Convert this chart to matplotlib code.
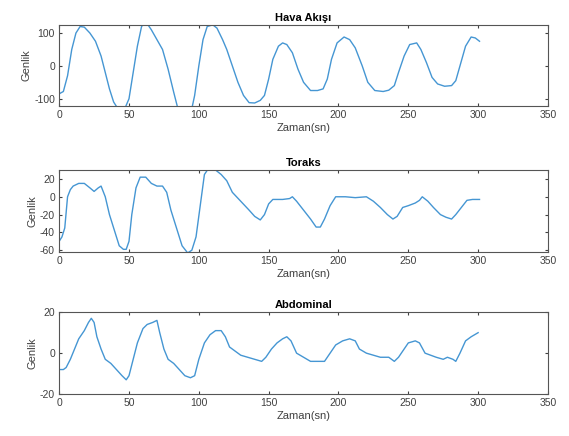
import numpy as np
import matplotlib
matplotlib.use('Agg')
import matplotlib.pyplot as plt

plt.rcParams['font.family'] = ['Liberation Sans', 'DejaVu Sans']
plt.rcParams['axes.unicode_minus'] = False

# Hava Akisi
t_hava = [0, 3, 6, 9, 12, 15, 18, 22, 26, 30, 33, 36, 39, 42, 47, 50, 53, 56, 59, 62,
          66, 70, 74, 78, 82, 85, 95, 97, 100, 103, 106, 110, 113, 117, 120, 124, 128,
          132, 136, 140, 144, 147, 150, 153, 157, 160, 163, 167, 171, 175, 180, 185,
          189, 192, 195, 199, 204, 208, 212, 217, 221, 226, 232, 236, 240, 243, 247,
          251, 256, 259, 263, 267, 271, 276, 281, 284, 287, 291, 295, 298, 301]
hava = [-85, -78, -30, 50, 100, 120, 118, 100, 75, 30, -20, -70, -110, -130, -130,
        -100, -20, 60, 120, 135, 110, 80, 50, -10, -80, -130, -130, -90, 0, 80, 120,
        125, 115, 80, 50, 0, -50, -90, -112, -113, -105, -90, -40, 20, 60, 70, 65, 40,
        -10, -50, -75, -75, -70, -40, 20, 70, 88, 80, 55, 0, -50, -75, -78, -74, -60,
        -20, 30, 65, 70, 50, 10, -35, -55, -62, -60, -45, 0, 60, 88, 85, 75]

# Toraks
t_tor = [0, 2, 4, 6, 8, 10, 14, 18, 22, 25, 28, 30, 33, 36, 40, 43, 46, 48, 50, 52,
         55, 58, 62, 66, 70, 74, 77, 80, 84, 88, 92, 95, 98, 101, 104, 107, 112, 116,
         120, 124, 130, 136, 140, 144, 147, 150, 153, 160, 165, 167, 170, 175, 180,
         184, 187, 190, 194, 198, 205, 212, 220, 225, 230, 235, 239, 242, 246, 250,
         255, 258, 260, 264, 268, 273, 277, 281, 284, 288, 292, 296, 301]
toraks = [-50, -45, -35, 0, 8, 12, 15, 15, 10, 6, 10, 12, 0, -20, -40, -55, -59, -59,
          -50, -20, 10, 22, 22, 15, 12, 12, 5, -15, -35, -55, -63, -60, -45, -10, 25,
          32, 30, 25, 18, 5, -5, -15, -22, -26, -20, -8, -3, -3, -2, 0, -5, -15, -25,
          -34, -34, -25, -10, 0, 0, -1, 0, -5, -12, -20, -25, -22, -12, -10, -7, -4, 0,
          -5, -12, -20, -23, -25, -20, -12, -4, -3, -3]

# Abdominal
t_abd = [0, 3, 5, 8, 11, 14, 18, 21, 23, 25, 27, 30, 33, 37, 41, 45, 48, 50, 53, 56,
         60, 63, 67, 70, 72, 75, 78, 82, 86, 90, 94, 97, 100, 104, 108, 112, 116, 119,
         122, 126, 130, 135, 140, 145, 148, 152, 156, 160, 163, 166, 170, 175, 180,
         185, 190, 194, 198, 203, 208, 212, 215, 220, 225, 230, 236, 240, 243, 247,
         250, 255, 258, 262, 266, 270, 275, 278, 282, 284, 287, 291, 295, 300]
abdominal = [-8, -8, -7, -3, 2, 7, 11, 15, 17, 15, 8, 2, -3, -5, -8, -11, -13, -11, -3,
             5, 12, 14, 15, 16, 10, 2, -3, -5, -8, -11, -12, -11, -3, 5, 9, 11, 11, 8,
             3, 1, -1, -2, -3, -4, -2, 2, 5, 7, 8, 6, 0, -2, -4, -4, -4, 0, 4, 6, 7, 6,
             2, 0, -1, -2, -2, -4, -2, 2, 5, 6, 5, 0, -1, -2, -3, -2, -3, -4, 0, 6, 8, 10]

panels = [
    ('Hava Akışı', t_hava, hava, (-122, 125), [-100, 0, 100]),
    ('Toraks', t_tor, toraks, (-62, 30), [-60, -40, -20, 0, 20]),
    ('Abdominal', t_abd, abdominal, (-20, 20), [-20, 0, 20]),
]
rects = [
    [0.104, 0.757, 0.859, 0.186],
    [0.104, 0.422, 0.859, 0.188],
    [0.104, 0.096, 0.859, 0.188],
]

fig = plt.figure(figsize=(5.69, 4.36), dpi=100)
for (title, t, y, ylim, yticks), r in zip(panels, rects):
    ax = fig.add_axes(r)
    ax.plot(t, y, color='#4596d3', lw=1.0)
    ax.set_xlim(0, 350)
    ax.set_ylim(*ylim)
    ax.set_yticks(yticks)
    ax.set_xticks(range(0, 351, 50))
    ax.set_title(title, fontsize=8, fontweight='bold', pad=3)
    ax.set_xlabel('Zaman(sn)', fontsize=8, color='#404040', labelpad=2)
    ax.set_ylabel('Genlik', fontsize=8, color='#404040', labelpad=2)
    ax.tick_params(direction='in', length=2.5, labelsize=7.5, colors='#404040',
                   top=True, right=True, pad=3)
    for s in ax.spines.values():
        s.set_color('#555555')
        s.set_linewidth(0.8)

fig.savefig('out.png', dpi=100)
